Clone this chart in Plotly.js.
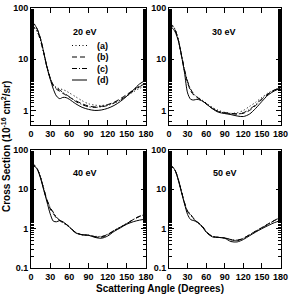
<!DOCTYPE html>
<html><head><meta charset="utf-8">
<script src="https://cdn.plot.ly/plotly-3.0.1.min.js"></script>
<style>html,body{margin:0;padding:0;background:#fff}</style>
</head><body>
<div id="chart" style="width:289px;height:294px"></div>
<script>
var angles = [0,5,10,15,20,25,30,35,40,45,50,55,60,70,80,90,100,110,120,130,140,150,160,170,180];
var panelLabels = ["20 eV","30 eV","40 eV","50 eV"];
var seriesNames = ["(a)","(b)","(c)","(d)"];

var e20a = [44,42,35,23,13,7,4.4,3.2,2.8,2.65,2.55,2.4,2.2,1.85,1.55,1.35,1.27,1.25,1.3,1.4,1.6,1.9,2.3,2.7,3.0];
var e20b = [52,49,38,25,13.5,7.2,4.3,3.0,2.6,2.35,2.15,1.98,1.82,1.55,1.35,1.22,1.17,1.2,1.3,1.45,1.7,2.05,2.5,3.0,3.3];
var e20c = [42,41,34,23,13,7,4.3,3.1,2.7,2.5,2.25,2.05,1.85,1.5,1.3,1.18,1.15,1.18,1.25,1.4,1.6,1.95,2.4,2.9,3.4];
var e20d = [50,48,38,25,13.5,7,4.1,2.6,1.9,1.7,1.8,1.78,1.65,1.35,1.15,1.05,1.0,1.02,1.1,1.25,1.5,1.9,2.5,3.3,3.9];

var e30a = [50,47,38,24,12,6,3.6,2.5,2.0,1.85,1.7,1.55,1.4,1.15,1.0,0.92,0.88,0.9,1.0,1.2,1.45,1.8,2.2,2.5,2.7];
var e30b = [47,45,37,24,12,6,3.5,2.4,2.0,1.8,1.65,1.5,1.35,1.1,0.95,0.9,0.87,0.86,0.88,1.0,1.25,1.65,2.1,2.5,2.75];
var e30c = [48,46,37,24,12.5,6.3,3.7,2.6,2.1,1.85,1.65,1.5,1.35,1.1,0.95,0.9,0.87,0.85,0.9,1.05,1.3,1.7,2.1,2.5,2.75];
var e30d = [42,41,34,23,12,5.5,2.2,1.65,1.6,1.65,1.6,1.5,1.35,1.08,0.92,0.87,0.83,0.78,0.76,0.85,1.1,1.5,2.0,2.4,2.7];

var e40a = [40,39,32,20,10.5,5.5,3.4,2.5,1.9,1.6,1.4,1.25,1.1,0.8,0.7,0.68,0.64,0.64,0.72,0.9,1.1,1.35,1.7,2.1,2.4];
var e40b = [44,42,33,20,10,5.2,3.2,2.4,1.85,1.6,1.45,1.3,1.12,0.8,0.7,0.68,0.62,0.6,0.7,0.88,1.1,1.35,1.7,2.05,2.3];
var e40c = [40,39,32,20,10.2,5.4,3.5,2.6,1.95,1.65,1.45,1.28,1.1,0.8,0.7,0.68,0.63,0.62,0.72,0.9,1.1,1.35,1.7,2.05,2.25];
var e40d = [42,40,32,19,9.5,4.8,2.4,1.55,1.5,1.6,1.5,1.3,1.1,0.78,0.7,0.68,0.6,0.57,0.65,0.85,1.05,1.3,1.5,1.65,1.75];

var e50a = [38,37,30,18,9,4.5,2.8,2.3,1.8,1.5,1.3,1.1,0.85,0.64,0.6,0.58,0.53,0.5,0.56,0.68,0.85,1.05,1.3,1.6,1.9];
var e50b = [40,38,30,18,9,4.6,2.8,2.3,1.8,1.5,1.3,1.1,0.85,0.64,0.6,0.58,0.52,0.5,0.57,0.7,0.87,1.07,1.32,1.62,1.95];
var e50c = [38,37,30,18,9,4.5,2.7,2.2,1.75,1.45,1.25,1.05,0.82,0.63,0.6,0.58,0.53,0.51,0.57,0.7,0.86,1.05,1.3,1.6,1.95];
var e50d = [40,38,30,17,8.5,4.3,2.3,1.7,1.6,1.5,1.3,1.05,0.82,0.62,0.6,0.57,0.47,0.46,0.53,0.66,0.82,1.0,1.2,1.42,1.6];

var xTickVals = [0,30,60,90,120,150,180];
var yTickValsTop = [1,10,100];
var yTickTextTop = ["1","10","100"];
var yTickValsBot = [0.1,1,10,100];
var yTickTextBot = ["0.1","1","10","100"];

var panels = [[e20a,e20b,e20c,e20d],[e30a,e30b,e30c,e30d],[e40a,e40b,e40c,e40d],[e50a,e50b,e50c,e50d]];
var dashes = ["1px,2.5px","5px,3px","5px,2px,1px,2px","solid"];

var traces = [];
panels.forEach(function(p, i){
  var sfx = i === 0 ? "" : String(i+1);
  p.forEach(function(ys, j){
    traces.push({x: angles, y: ys, type: "scatter", mode: "lines", name: seriesNames[j],
      xaxis: "x"+sfx, yaxis: "y"+sfx,
      line: {color: "#000", width: 1, dash: dashes[j], shape: "spline", smoothing: 0.8},
      showlegend: false, hoverinfo: "skip"});
  });
});

var F = "Liberation Sans, Arial, sans-serif";
var tf = {family: F, size: 9, color: "#000", weight: 700};

function xa(dom, anchor){
  return {domain: dom, anchor: anchor, range: [0,180], tickvals: xTickVals, ticks: "inside", ticklen: 5,
    tickwidth: 1, tickcolor: "#000", showline: true, linecolor: "#000", linewidth: 1, mirror: "allticks",
    showgrid: false, zeroline: false, tickfont: tf, tickangle: 0, automargin: false, ticklabeloverflow: "allow"};
}
function ya(dom, anchor, top){
  var a = {domain: dom, anchor: anchor, type: "log", ticks: "inside", ticklen: 5,
    tickwidth: 1, tickcolor: "#000", showline: true, linecolor: "#000", linewidth: 1, mirror: "allticks",
    showgrid: false, zeroline: false, tickfont: tf, dtick: 1, tickangle: 0, automargin: false, ticklabeloverflow: "allow",
    minor: {ticks: "inside", ticklen: 3, tickcolor: "#000", tickwidth: 1, showgrid: false}};
  if (top) { a.range = [Math.log10(0.52), 2]; a.tickvals = yTickValsTop; a.ticktext = yTickTextTop; }
  else { a.range = [-1, 2]; a.tickvals = yTickValsBot; a.ticktext = yTickTextBot; }
  return a;
}

var xL = [31/289, 146/289], xR = [169/289, 280.5/289];
var yT = [1-125/294, 1-8/294], yB = [1-268/294, 1-150/294];

var annotations = [];
var labelPos = [[85,32],[224,32],[85,173],[225,173]];
panelLabels.forEach(function(t,i){
  annotations.push({text: t, xref: "paper", yref: "paper", x: labelPos[i][0]/289, y: 1-labelPos[i][1]/294,
    xanchor: "center", yanchor: "middle", showarrow: false, font: {family: F, size: 9, color: "#000", weight: 700}});
});
var legRows = [45.5, 57, 68.5, 80];
var shapes = [];
seriesNames.forEach(function(n,j){
  annotations.push({text: n, xref: "paper", yref: "paper", x: 95/289, y: 1-legRows[j]/294,
    xanchor: "left", yanchor: "middle", showarrow: false, font: {family: F, size: 9, color: "#000", weight: 700}});
  shapes.push({type: "line", xref: "paper", yref: "paper", x0: 72/289, x1: 87/289,
    y0: 1-legRows[j]/294, y1: 1-legRows[j]/294, line: {color: "#000", width: 1, dash: dashes[j]}});
});
annotations.push({text: "Cross Section (10<sup>-16</sup> cm<sup>2</sup>/sr)", xref: "paper", yref: "paper",
  x: 6/289, y: 0.5, textangle: -90, xanchor: "center", yanchor: "middle", showarrow: false,
  font: {family: F, size: 10, color: "#000", weight: 700}});
annotations.push({text: "Scattering Angle (Degrees)", xref: "paper", yref: "paper",
  x: 160/289, y: 1-288/294, xanchor: "center", yanchor: "middle", showarrow: false,
  font: {family: F, size: 10, color: "#000", weight: 700}});

var layout = {
  width: 289, height: 294, margin: {l:0, r:0, t:0, b:0},
  paper_bgcolor: "#fff", plot_bgcolor: "#fff", showlegend: false,
  xaxis: xa(xL, "y"), yaxis: ya(yT, "x", true),
  xaxis2: xa(xR, "y2"), yaxis2: ya(yT, "x2", true),
  xaxis3: xa(xL, "y3"), yaxis3: ya(yB, "x3", false),
  xaxis4: xa(xR, "y4"), yaxis4: ya(yB, "x4", false),
  annotations: annotations, shapes: shapes
};
Plotly.newPlot("chart", traces, layout, {staticPlot: true, displayModeBar: false});
</script>
</body></html>
